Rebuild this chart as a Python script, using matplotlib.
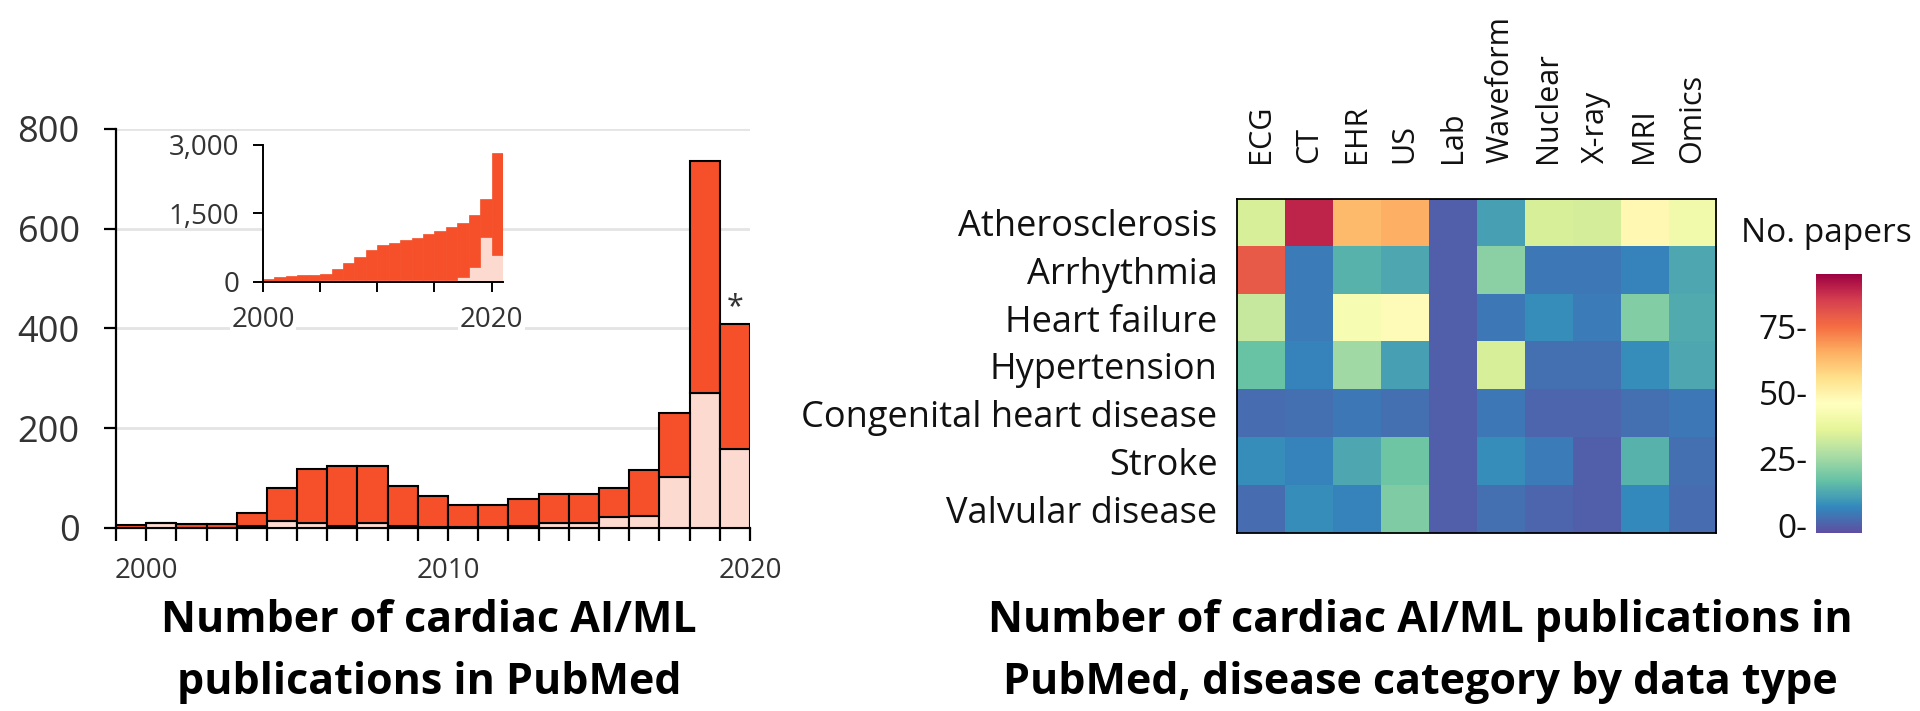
import matplotlib
matplotlib.use('Agg')

import numpy as np
import matplotlib.pyplot as plt

plt.rcParams['font.family'] = ['Open Sans', 'DejaVu Sans']

# -------------------------
# Data
# -------------------------
# main panel: cardiac AI/ML papers per year (total bar height and light lower part)
years = np.arange(1999, 2020)
total_papers = [5, 10, 8, 8, 31, 80, 118, 124, 124, 85, 65, 47, 47, 58, 68, 68, 80, 117, 231, 735, 408]
light_papers = [0, 10, 0, 0, 3, 15, 9, 3, 9, 3, 2, 2, 2, 3, 9, 9, 22, 25, 102, 271, 158]

# inset: longer-range counts
inset_years = np.arange(2000, 2021)
inset_total = [73, 110, 130, 146, 160, 183, 278, 424, 549, 695, 805, 863, 915, 973,
               1046, 1120, 1207, 1302, 1463, 1807, 2817]
inset_light = [10, 10, 10, 10, 10, 35, 35, 35, 35, 35, 35, 35, 35, 35,
               40, 45, 50, 110, 330, 988, 585]

# heatmap: disease category x data type
diseases = ["Atherosclerosis", "Arrhythmia", "Heart failure", "Hypertension",
            "Congenital heart disease", "Stroke", "Valvular disease"]
data_types = ["ECG", "CT", "EHR", "US", "Lab", "Waveform", "Nuclear", "X-ray", "MRI", "Omics"]
paper_counts = [
    [34, 89, 63, 65, 0, 11, 34, 33, 48, 41],
    [79, 5, 14, 12, 0, 22, 4, 4, 6, 12],
    [31, 5, 43, 47, 0, 4, 8, 5, 21, 13],
    [17, 6, 25, 11, 0, 34, 3, 3, 8, 12],
    [2, 3, 4, 3, 0, 4, 1, 1, 3, 4],
    [8, 6, 12, 18, 0, 8, 5, 0, 14, 3],
    [2, 8, 6, 20, 0, 3, 1, 0, 7, 2],
]
cbar_ticks = [0, 25, 50, 75]

ORANGE = "#F5502A"
LIGHT = "#FDDAD0"
LABEL_GREY = "#333333"

fig = plt.figure(figsize=(19.2, 7.11), dpi=100)

# -------------------------
# Left: stacked bars
# -------------------------
ax = fig.add_axes([0.0604, 0.2574, 0.3302, 0.5612])
total_papers = np.array(total_papers)
light_papers = np.array(light_papers)
ax.bar(years, light_papers, width=1, align='edge', color=LIGHT,
       edgecolor='black', linewidth=1.5, zorder=3)
ax.bar(years, total_papers - light_papers, bottom=light_papers, width=1, align='edge',
       color=ORANGE, edgecolor='black', linewidth=1.5, zorder=3)
ax.text(years[-1] + 0.5, total_papers[-1] + 4, "*", ha='center', va='bottom',
        fontsize=22, color='#333333')

ax.set_xlim(1999, 2020)
ax.set_ylim(0, 800)
ax.set_yticks([0, 200, 400, 600, 800])
ax.set_xticks(np.arange(1999, 2021))
ax.set_xticklabels([str(y) if y in (2000, 2010, 2020) else "" for y in range(1999, 2021)])
ax.tick_params(axis='y', labelsize=26, length=9, width=1.6, pad=17, colors='black',
               labelcolor=LABEL_GREY)
ax.tick_params(axis='x', labelsize=20, length=9, width=1.6, pad=12, colors='black',
               labelcolor=LABEL_GREY)
for s in ['top', 'right']:
    ax.spines[s].set_visible(False)
for s in ['left', 'bottom']:
    ax.spines[s].set_linewidth(1.6)
ax.grid(axis='y', color='#e4e4e4', linewidth=2, zorder=0)
ax.set_axisbelow(True)

# inset
axi = fig.add_axes([0.137, 0.6034, 0.125, 0.1927])
axi.bar(inset_years, inset_light, width=1, align='edge', color=LIGHT,
        edgecolor=LIGHT, linewidth=0.5)
axi.bar(inset_years, np.array(inset_total) - np.array(inset_light), bottom=inset_light,
        width=1, align='edge', color=ORANGE, edgecolor=ORANGE, linewidth=0.5)
axi.set_xlim(2000, 2021)
axi.set_ylim(0, 3000)
axi.set_yticks([0, 1500, 3000])
axi.set_yticklabels(["0", "1,500", "3,000"])
axi.set_xticks([2000, 2005, 2010, 2015, 2020])
axi.set_xticklabels(["2000", "", "", "", "2020"])
axi.tick_params(labelsize=20, length=7, width=1.4, pad=10, labelcolor=LABEL_GREY)
for s in ['top', 'right']:
    axi.spines[s].set_visible(False)
for s in ['left', 'bottom']:
    axi.spines[s].set_linewidth(1.4)
for lab in axi.get_xticklabels():
    lab.set_bbox(dict(facecolor='white', edgecolor='none', pad=1))

fig.text(0.2234, 0.111, "Number of cardiac AI/ML", ha='center', va='baseline',
         fontsize=31, fontweight='bold')
fig.text(0.2234, 0.024, "publications in PubMed", ha='center', va='baseline',
         fontsize=31, fontweight='bold')

# -------------------------
# Right: heatmap
# -------------------------
axh = fig.add_axes([0.6443, 0.2504, 0.2495, 0.4698])
im = axh.imshow(np.array(paper_counts), cmap='Spectral_r', vmin=-3, vmax=95,
                aspect='auto', interpolation='nearest')
axh.set_xticks(range(len(data_types)))
axh.set_xticklabels(data_types, rotation=90)
axh.set_yticks(range(len(diseases)))
axh.set_yticklabels(diseases)
axh.xaxis.tick_top()
axh.tick_params(axis='x', length=0, pad=26, labelsize=22, labelcolor='#111111')
axh.tick_params(axis='y', length=0, pad=14, labelsize=26, labelcolor='#111111')
for s in axh.spines.values():
    s.set_linewidth(1.3)

cax = fig.add_axes([0.9458, 0.2504, 0.024, 0.3643])
cbar = fig.colorbar(im, cax=cax)
cbar.outline.set_visible(False)
cbar.set_ticks(cbar_ticks)
cbar.set_ticklabels([f"{t}-" for t in cbar_ticks])
cax.yaxis.set_ticks_position('left')
cax.tick_params(length=0, pad=6, labelsize=24, labelcolor='#111111')
fig.text(0.9068, 0.672, "No. papers", ha='left', va='center', fontsize=24, color='#111111')

fig.text(0.7396, 0.111, "Number of cardiac AI/ML publications in", ha='center',
         va='baseline', fontsize=31, fontweight='bold')
fig.text(0.7396, 0.024, "PubMed, disease category by data type", ha='center',
         va='baseline', fontsize=31, fontweight='bold')

plt.savefig("out.png", dpi=100)
